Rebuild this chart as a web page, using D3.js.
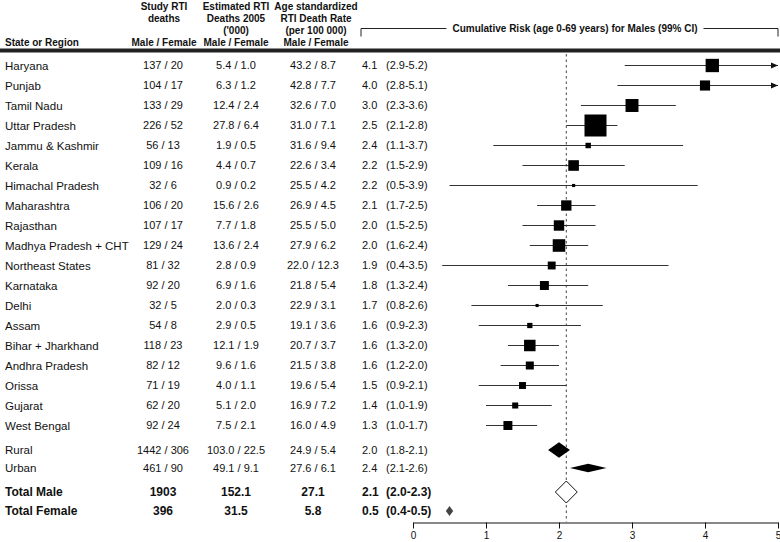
<!DOCTYPE html>
<html>
<head>
<meta charset="utf-8">
<script src="https://cdn.jsdelivr.net/npm/d3@7"></script>
<style>
  body { margin: 0; background: #fff; }
  svg { font-family: "Liberation Sans", Arial, sans-serif; }
</style>
</head>
<body>
<div id="chart"></div>
<script>
// state rows
const states = ["Haryana", "Punjab", "Tamil Nadu", "Uttar Pradesh", "Jammu & Kashmir", "Kerala",
  "Himachal Pradesh", "Maharashtra", "Rajasthan", "Madhya Pradesh + CHT", "Northeast States",
  "Karnataka", "Delhi", "Assam", "Bihar + Jharkhand", "Andhra Pradesh", "Orissa", "Gujarat", "West Bengal"];
const deathsMale = [137, 104, 133, 226, 56, 109, 32, 106, 107, 129, 81, 92, 32, 54, 118, 82, 71, 62, 92];
const deathsFemale = [20, 17, 29, 52, 13, 16, 6, 20, 17, 24, 32, 20, 5, 8, 23, 12, 19, 20, 24];
const estMale = ["5.4", "6.3", "12.4", "27.8", "1.9", "4.4", "0.9", "15.6", "7.7", "13.6", "2.8", "6.9", "2.0", "2.9", "12.1", "9.6", "4.0", "5.1", "7.5"];
const estFemale = ["1.0", "1.2", "2.4", "6.4", "0.5", "0.7", "0.2", "2.6", "1.8", "2.4", "0.9", "1.6", "0.3", "0.5", "1.9", "1.6", "1.1", "2.0", "2.1"];
const rateMale = ["43.2", "42.8", "32.6", "31.0", "31.6", "22.6", "25.5", "26.9", "25.5", "27.9", "22.0", "21.8", "22.9", "19.1", "20.7", "21.5", "19.6", "16.9", "16.0"];
const rateFemale = ["8.7", "7.7", "7.0", "7.1", "9.4", "3.4", "4.2", "4.5", "5.0", "6.2", "12.3", "5.4", "3.1", "3.6", "3.7", "3.8", "5.4", "7.2", "4.9"];
const risk = [4.1, 4.0, 3.0, 2.5, 2.4, 2.2, 2.2, 2.1, 2.0, 2.0, 1.9, 1.8, 1.7, 1.6, 1.6, 1.6, 1.5, 1.4, 1.3];
const riskLo = [2.9, 2.8, 2.3, 2.1, 1.1, 1.5, 0.5, 1.7, 1.5, 1.6, 0.4, 1.3, 0.8, 0.9, 1.3, 1.2, 0.9, 1.0, 1.0];
const riskHi = [5.2, 5.1, 3.6, 2.8, 3.7, 2.9, 3.9, 2.5, 2.5, 2.4, 3.5, 2.4, 2.6, 2.3, 2.0, 2.0, 2.1, 1.9, 1.7];

// summary rows
const areas = ["Rural", "Urban"];
const areaDeaths = ["1442 / 306", "461 / 90"];
const areaEst = ["103.0 / 22.5", "49.1 / 9.1"];
const areaRate = ["24.9 / 5.4", "27.6 / 6.1"];
const areaCount = [1442, 461];
const areaRisk = [2.0, 2.4];
const areaLo = [1.8, 2.1];
const areaHi = [2.1, 2.6];

const totals = ["Total Male", "Total Female"];
const totalDeaths = ["1903", "396"];
const totalEst = ["152.1", "31.5"];
const totalRate = ["27.1", "5.8"];
const totalCount = [1903, 396];
const totalRisk = [2.1, 0.5];
const totalLo = [2.0, 0.4];
const totalHi = [2.3, 0.5];

const overall = 2.1;
const xTicks = [0, 1, 2, 3, 4, 5];

const width = 780, height = 542;
const svg = d3.select("#chart").append("svg")
  .attr("width", width).attr("height", height);

const x = d3.scaleLinear().domain([0, 5]).range([413, 778]);
const yState = d3.scaleLinear().domain([0, states.length - 1]).range([65.5, 425.5]);
const yArea = d3.scalePoint().domain(areas).range([450, 468]);
const yTotal = d3.scalePoint().domain(totals).range([492, 511]);
const boxSize = d3.scaleLinear().domain([0, d3.max(deathsMale)]).range([0, 22]);
const diaSize = d3.scaleSqrt().domain([0, d3.max(totalCount)]).range([0, 22]);

const col = { label: 5, deaths: 163, est: 236, rate: 313, risk: 362, ci: 386 };

// header
const head = svg.append("g").attr("font-weight", "bold").attr("font-size", 10)
  .attr("fill", "#111").attr("text-anchor", "middle");
const headCols = [
  [col.deaths + 1, ["Study RTI", "deaths", "", "Male / Female"]],
  [col.est, ["Estimated RTI", "Deaths 2005", "('000)", "Male / Female"]],
  [col.rate + 3, ["Age standardized", "RTI Death Rate", "(per 100 000)", "Male / Female"]]
];
headCols.forEach(([cx, lines]) => {
  lines.forEach((t, i) => {
    head.append("text").attr("x", cx).attr("y", 10 + i * 12).text(t);
  });
});
head.append("text").attr("x", col.label).attr("y", 46).attr("text-anchor", "start").text("State or Region");

// bracket title
const title = head.append("text").attr("x", 575).attr("y", 32)
  .text("Cumulative Risk (age 0-69 years) for Males (99% CI)");
const tw = title.node().getComputedTextLength();
const bx0 = 361, bx1 = 778, by = 28.5;
svg.append("path")
  .attr("d", `M${bx0},${by + 8}V${by}H${575 - tw / 2 - 6}M${575 + tw / 2 + 6},${by}H${bx1}V${by + 8}`)
  .attr("fill", "none").attr("stroke", "#222").attr("stroke-width", 1);

svg.append("rect").attr("x", 0).attr("y", 48.5).attr("width", width).attr("height", 4).attr("fill", "#222");

// reference line
svg.append("line")
  .attr("x1", x(overall)).attr("x2", x(overall))
  .attr("y1", 54).attr("y2", 522)
  .attr("stroke", "#444").attr("stroke-width", 1).attr("stroke-dasharray", "2.5,3");

// text table rows
const rows = svg.append("g").attr("fill", "#111");
function tableRow(g, y, cells, bold) {
  const r = g.append("g").attr("font-weight", bold ? "bold" : null).attr("font-size", bold ? 12 : 11);
  r.append("text").attr("x", col.label).attr("y", y).attr("dy", "0.35em")
    .attr("font-size", bold ? 12 : 11.5).text(cells[0]);
  r.append("text").attr("x", col.deaths).attr("y", y).attr("dy", "0.35em").attr("text-anchor", "middle").text(cells[1]);
  r.append("text").attr("x", col.est).attr("y", y).attr("dy", "0.35em").attr("text-anchor", "middle").text(cells[2]);
  r.append("text").attr("x", col.rate).attr("y", y).attr("dy", "0.35em").attr("text-anchor", "middle").text(cells[3]);
  r.append("text").attr("x", col.risk).attr("y", y).attr("dy", "0.35em").text(cells[4]);
  r.append("text").attr("x", col.ci).attr("y", y).attr("dy", "0.35em").text(cells[5]);
}
const f1 = d3.format(".1f");
states.forEach((s, i) => {
  tableRow(rows, yState(i), [s, deathsMale[i] + " / " + deathsFemale[i], estMale[i] + " / " + estFemale[i],
    rateMale[i] + " / " + rateFemale[i], f1(risk[i]), "(" + f1(riskLo[i]) + "-" + f1(riskHi[i]) + ")"]);
});
areas.forEach((s, i) => {
  tableRow(rows, yArea(s), [s, areaDeaths[i], areaEst[i], areaRate[i], f1(areaRisk[i]),
    "(" + f1(areaLo[i]) + "-" + f1(areaHi[i]) + ")"]);
});
totals.forEach((s, i) => {
  tableRow(rows, yTotal(s), [s, totalDeaths[i], totalEst[i], totalRate[i], f1(totalRisk[i]),
    "(" + f1(totalLo[i]) + "-" + f1(totalHi[i]) + ")"], true);
});

// CI lines and boxes
const plot = svg.append("g");
const xMax = x.domain()[1];
states.forEach((s, i) => {
  const y = yState(i);
  const hi = Math.min(riskHi[i], xMax);
  plot.append("line").attr("x1", x(riskLo[i])).attr("x2", x(hi)).attr("y1", y).attr("y2", y)
    .attr("stroke", "#333").attr("stroke-width", 1.2);
  if (riskHi[i] > xMax) {
    const ax = x(xMax);
    plot.append("path").attr("d", `M${ax},${y}L${ax - 7},${y - 3}L${ax - 7},${y + 3}Z`).attr("fill", "#111");
  }
  const b = boxSize(deathsMale[i]);
  plot.append("rect").attr("x", x(risk[i]) - b / 2).attr("y", y - b / 2)
    .attr("width", b).attr("height", b).attr("fill", "#000");
});

// diamonds centred on the estimate, as wide as the CI
function diamond(est, lo, hi, y, h) {
  const half = (hi - lo) / 2;
  return `M${x(est - half)},${y}L${x(est)},${y - h / 2}L${x(est + half)},${y}L${x(est)},${y + h / 2}Z`;
}
areas.forEach((s, i) => {
  plot.append("path").attr("d", diamond(areaRisk[i], areaLo[i], areaHi[i], yArea(s), diaSize(areaCount[i]) * 0.8))
    .attr("fill", "#000");
});
totals.forEach((s, i) => {
  plot.append("path").attr("d", diamond(totalRisk[i], totalLo[i], totalHi[i], yTotal(s), diaSize(totalCount[i])))
    .attr("fill", i === 0 ? "#fff" : "#444").attr("stroke", i === 0 ? "#111" : "none");
});

// axis
const axis = svg.append("g").attr("transform", "translate(0,522.5)")
  .call(d3.axisBottom(x).tickValues(xTicks).tickFormat(d3.format("d")).tickSize(6).tickSizeOuter(0));
axis.select(".domain").attr("stroke", "#111");
axis.selectAll(".tick line").attr("stroke", "#111");
axis.selectAll(".tick text").attr("font-size", 10).attr("fill", "#111").attr("font-family", "Liberation Sans, Arial, sans-serif");
</script>
</body>
</html>
